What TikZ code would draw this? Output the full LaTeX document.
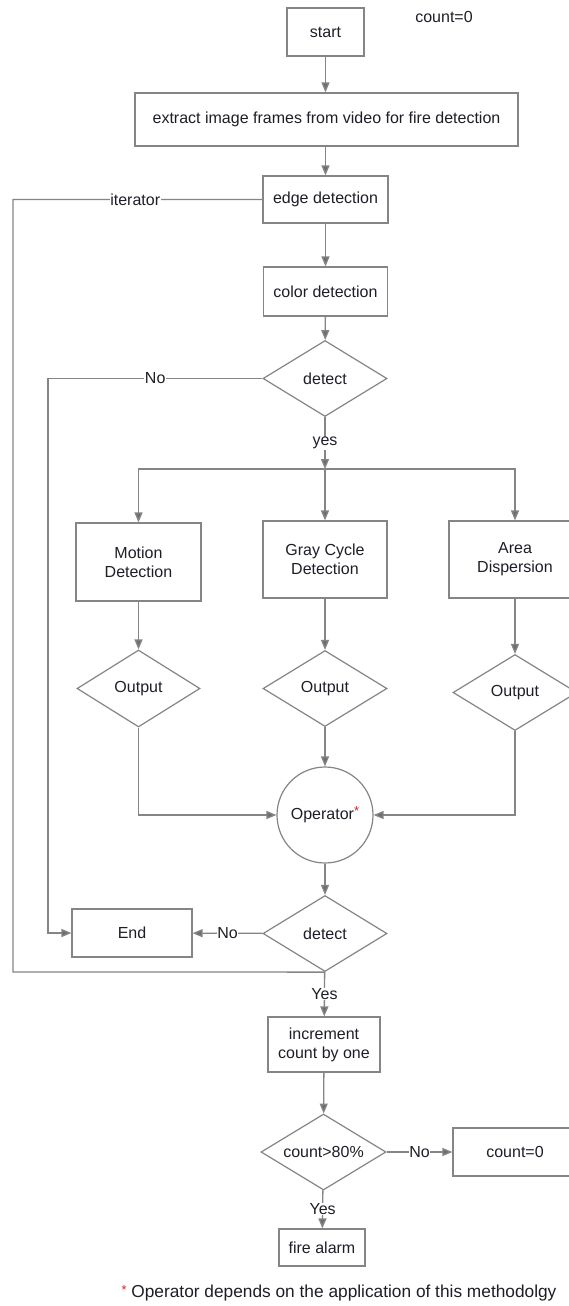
\documentclass[tikz,border=0pt]{standalone}
\usepackage{fontspec}
\setmainfont{Liberation Sans}
\usetikzlibrary{shapes.geometric,arrows.meta}
\definecolor{lc}{HTML}{858585}
\definecolor{ac}{HTML}{6E6E6E}
\definecolor{tc}{HTML}{1E1E28}
\definecolor{rc}{HTML}{E02020}
\begin{document}
\begin{tikzpicture}[x=1pt,y=-1pt,
  every node/.style={font=\fontsize{16}{19}\selectfont, text=tc},
  box/.style={draw=lc, line width=1.2pt, fill=white, align=center, inner sep=0pt},
  dia/.style={draw=lc, line width=1.2pt, fill=white, diamond, aspect=1.63, inner sep=0pt, minimum width=124pt, minimum height=76pt},
  ln/.style={draw=lc, line width=1.3pt},
  arr/.style={ln, -{Triangle[length=10pt,width=8pt,fill=ac]}},
  lbl/.style={fill=white, inner sep=0.5pt}
]
\useasboundingbox[fill=white] (0,0) rectangle (569,1306);
% nodes
\node[box, minimum width=77, minimum height=48] (start) at (325.5,32) {start};
\node (cnt) at (444,17) {count=0};
\node[box, minimum width=383, minimum height=53] (extract) at (326.5,119.5) {extract image frames from video for fire detection};
\node[box, minimum width=125, minimum height=47] (edge) at (325.5,199.5) {edge detection};
\node[box, minimum width=124, minimum height=49] (color) at (325.5,291.5) {color detection};
\node[dia] (det1) at (325,378.5) {detect};
\coordinate (jn) at (325,469);
\node[box, minimum width=125, minimum height=78] (motion) at (138.5,562) {Motion\\Detection};
\node[box, minimum width=124, minimum height=77] (gray) at (325,559.5) {Gray Cycle\\Detection};
\node[box, minimum width=132, minimum height=77] (area) at (515,559.5) {Area\\Dispersion};
\node[dia, minimum width=123, minimum height=77] (out1) at (138.5,688.5) {Output};
\node[dia] (out2) at (325,688.5) {Output};
\node[dia] (out3) at (515,692.5) {Output};
\node[circle, draw=lc, line width=1.2pt, fill=white, minimum size=96, inner sep=0pt] (op) at (325,815) {Operator\raisebox{4pt}{\textcolor{rc}{\fontsize{13}{13}\selectfont *}}};
\node[dia] (det2) at (325,933.5) {detect};
\node[box, minimum width=120, minimum height=48] (end) at (132,933) {End};
\node[box, minimum width=112, minimum height=55] (inc) at (324,1044.5) {increment\\count by one};
\node[dia, minimum width=125] (c80) at (323.5,1152) {count>80\%};
\node[box, minimum width=124, minimum height=48] (cz) at (515,1152) {count=0};
\node[box, minimum width=86, minimum height=37] (fire) at (322,1247.5) {fire alarm};
\node[font=\fontsize{17.3}{20}\selectfont] (note) at (339,1293) {\raisebox{3pt}{\textcolor{rc}{\fontsize{13}{13}\selectfont *}} Operator depends on the application of this methodolgy};
% coordinates
\coordinate (nb) at (48,378.5);
\coordinate (it1) at (13,972);
\coordinate (it2) at (13,199.5);
% connectors
\draw[arr] (start) -- (start |- extract.north);
\draw[arr] (edge |- extract.south) -- (edge);
\draw[arr] (edge) -- (color);
\draw[arr] (color) -- (det1);
\draw[arr] (det1) -- node[lbl]{yes} (jn);
\draw[arr] (jn) -| (motion.north);
\draw[arr] (jn) -- (gray);
\draw[arr] (jn) -| (area.north);
\draw[arr] (motion) -- (out1);
\draw[arr] (gray) -- (out2);
\draw[arr] (area) -- (out3);
\draw[arr] (out1.south) |- (op.west);
\draw[arr] (out2) -- (op);
\draw[arr] (out3.south) |- (op.east);
\draw[arr] (op) -- (det2);
\draw[arr] (det2) -- node[lbl]{No} (end);
\draw[arr] (det1.west) -- node[lbl]{No} (nb) |- (end.west);
\draw[ln] (det2.south) -- (it1) -- (it2) -- node[lbl, pos=0.49]{iterator} (edge.west);
\draw[arr] (det2) -- node[lbl]{Yes} (inc);
\draw[arr] (inc) -- (c80);
\draw[arr] (c80) -- node[lbl]{No} (cz);
\draw[arr] (c80) -- node[lbl]{Yes} (fire);
\end{tikzpicture}
\end{document}
